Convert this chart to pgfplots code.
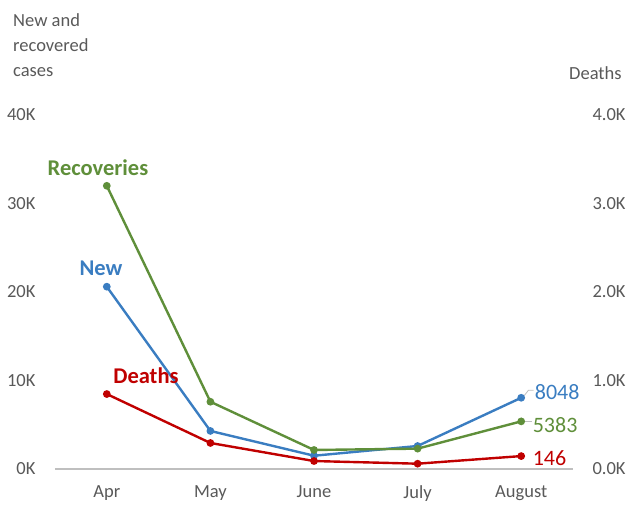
\documentclass[border=0pt]{standalone}
\usepackage{pgfplots}
\pgfplotsset{compat=1.18}
\usepackage{fontspec}
\setmainfont{Carlito}
\definecolor{cblue}{HTML}{3A7DC1}
\definecolor{cgreen}{HTML}{5F8F3A}
\definecolor{cred}{HTML}{C00000}
\definecolor{ctxt}{HTML}{595959}
\definecolor{cgrid}{HTML}{BFBFBF}
\begin{document}
\begin{tikzpicture}[x=1pt,y=1pt]
\useasboundingbox (-55,-35) rectangle (574,469);
\pgfplotsset{
  base/.style={
    scale only axis, width=518pt, height=354pt,
    xmin=-0.5, xmax=4.5,
    axis line style={draw=none},
    tick style={draw=none},
    ticklabel style={font=\fontsize{18.5}{21}\selectfont, text=ctxt},
    clip=false,
  }
}
\begin{axis}[base,
  ymin=0, ymax=40000,
  xtick={0,1,2,3,4},
  xticklabels={Apr,May,June,July,August},
  xticklabel style={yshift=-13pt},
  ytick={0,10000,20000,30000,40000},
  yticklabels={0K,10K,20K,30K,40K},
  yticklabel style={xshift=-16pt},
  scaled y ticks=false,
]
\draw[cgrid, line width=1.3pt] (axis cs:-0.5,0) -- (axis cs:4.5,0);
\addplot[cblue, line width=2.4pt, mark=*, mark size=2.6pt] coordinates {
  (0,20600) (1,4300) (2,1500) (3,2600) (4,8048)};
\addplot[cgreen, line width=2.4pt, mark=*, mark size=2.6pt] coordinates {
  (0,32000) (1,7600) (2,2150) (3,2300) (4,5383)};
\node[font=\bfseries\fontsize{22.5}{25}\selectfont, text=cgreen] at (axis cs:-0.085,34011) {Recoveries};
\node[font=\bfseries\fontsize{22.5}{25}\selectfont, text=cblue] at (axis cs:-0.056,22712) {New};
\node[font=\bfseries\fontsize{22.5}{25}\selectfont, text=cred] at (axis cs:0.378,10508) {Deaths};
\node[anchor=west, inner sep=0pt, font=\fontsize{22}{24}\selectfont, text=cblue] at (axis cs:4.13,8700) {8048};
\node[anchor=west, inner sep=0pt, font=\fontsize{22}{24}\selectfont, text=cgreen] at (axis cs:4.11,4972) {5383};
\node[anchor=west, inner sep=0pt, font=\fontsize{22}{24}\selectfont, text=cred] at (axis cs:4.11,1243) {146};
\draw[cgrid, line width=0.8pt] (axis cs:4.03,8300) -- (axis cs:4.07,8900) -- (axis cs:4.12,8900);
\draw[cgrid, line width=0.8pt] (axis cs:4.03,5383) -- (axis cs:4.10,5383);
\end{axis}
\begin{axis}[base,
  ymin=0, ymax=4000,
  xtick=\empty,
  axis y line*=right,
  ytick={0,1000,2000,3000,4000},
  yticklabels={0.0K,1.0K,2.0K,3.0K,4.0K},
  yticklabel style={anchor=west, xshift=16pt},
]
\addplot[cred, line width=2.4pt, mark=*, mark size=2.6pt] coordinates {
  (0,847) (1,294) (2,90) (3,60) (4,146)};
\end{axis}
\node[anchor=north west, align=left, text=ctxt, font=\fontsize{18.5}{25}\selectfont, inner sep=0pt] at (-42,456) {New and\\recovered\\cases};
\node[anchor=west, text=ctxt, font=\fontsize{18.5}{21}\selectfont, inner sep=0pt] at (514,396) {Deaths};
\end{tikzpicture}
\end{document}
